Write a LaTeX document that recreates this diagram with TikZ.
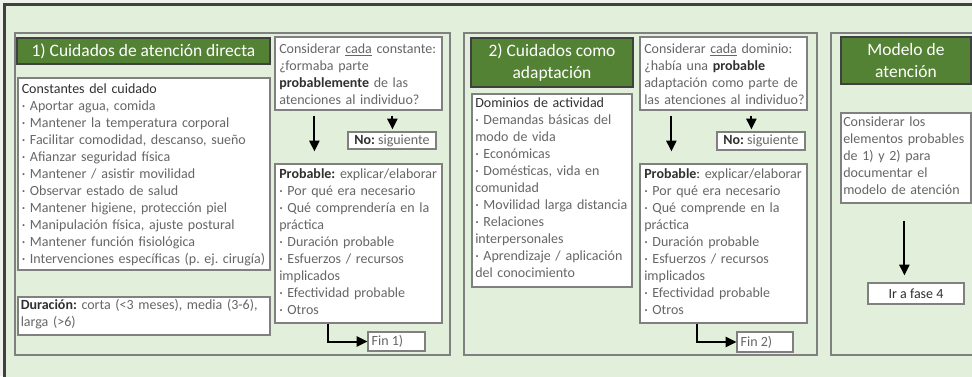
\documentclass[tikz,border=0pt]{standalone}
\usepackage{fontspec}
\setmainfont{Carlito}
\usetikzlibrary{arrows.meta,calc,fit,shadows}
\frenchspacing
\definecolor{bggreen}{HTML}{E2EFDA}
\definecolor{outerbg}{HTML}{EEF2EB}
\definecolor{titlegreen}{HTML}{548235}
\definecolor{darktxt}{HTML}{303030}
\definecolor{graytxt}{HTML}{666666}
\definecolor{boxline}{HTML}{808080}
\definecolor{frameline}{HTML}{404040}
\newcommand\dgBodyFont{\frenchspacing\fontsize{10.5pt}{12.75pt}\selectfont}
\newcommand\dgTitleFont{\fontsize{13.1pt}{16.5pt}\selectfont}
\newcommand\dgHd[1]{\textcolor{darktxt}{#1}}
\newcommand\dgBf[1]{\textcolor{darktxt}{\textbf{#1}}}
\tikzset{
  dgshadow/.style={drop shadow={shadow xshift=0.7pt, shadow yshift=-0.7pt, opacity=0.35, fill=black}},
  panelbox/.style={draw=boxline, line width=1.1pt, fill=bggreen, inner sep=0pt, dgshadow},
  whitebox/.style={draw=boxline, line width=0.9pt, fill=white, inner sep=0pt, dgshadow},
  titlebox/.style={draw=frameline, line width=1.6pt, fill=titlegreen, inner sep=0pt},
  bodytext/.style={anchor=base west, inner sep=0pt, text width=#1, align=left, font=\dgBodyFont, text=graytxt},
  smalltext/.style={inner sep=0pt, font=\dgBodyFont, text=graytxt},
  titletext/.style={inner sep=0pt, align=center, text=white, font=\dgTitleFont},
  arr/.style={line width=1.5pt, -{Triangle[length=8pt,width=7.5pt]}},
}
\begin{document}
\begin{tikzpicture}[x=0.75pt,y=-0.75pt]
\clip (0,0) rectangle (972,376);
\fill[outerbg] (0,0) rectangle (972,376);
% outer frame
\node[fit={(4.5,4.5)(1010,400)}, draw=frameline, line width=2pt, fill=bggreen, inner sep=0pt] (frame) {};
% panels
\node[panelbox, fit={(15,33)(450,355)}] (p1) {};
\node[panelbox, fit={(464,33)(817,355)}] (p2) {};
\node[panelbox, fit={(831,33)(1010,355)}] (p3) {};

% ---------- panel 1 ----------
\node[titlebox, fit={(17,38)(270,64)}] (t1) {};
\node[titletext] (t1txt) at (t1.center) {1) Cuidados de atención directa};

\node[whitebox, fit={(18,78)(270,270)}] (const) {};
\node[bodytext=250] (consttxt) at (21.5,93) {\dgHd{Constantes del cuidado}\\
· Aportar agua, comida\\
· Mantener la temperatura corporal\\
· Facilitar comodidad, descanso, sueño\\
· Afianzar seguridad física\\
· Mantener / asistir movilidad\\
· Observar estado de salud\\
· Mantener higiene, protección piel\\
· Manipulación física, ajuste postural\\
· Mantener función fisiológica\\
· Intervenciones específicas (p. ej. cirugía)};

\node[whitebox, fit={(18,297)(270,335)}] (dur) {};
\node[bodytext=250] (durtxt) at (20.5,309) {\dgBf{Duración:} corta (<3 meses), media (3-6),\\ larga (>6)};

\node[whitebox, fit={(275,37)(442,110)}] (cons1) {};
\node[bodytext=165] (cons1txt) at (279,53) {Considerar \underline{cada} constante:\\
¿formaba parte\\
\dgBf{probablemente} de las\\
atenciones al individuo?};

\node[whitebox, fit={(348,132)(436,149)}] (no1) {};
\node[smalltext] (no1txt) at (no1.center) {\dgBf{No:} siguiente};

\node[whitebox, fit={(275,164)(442,323)}] (prob1) {};
\node[bodytext=165] (prob1txt) at (279,178) {\dgBf{Probable:} explicar/elaborar\\
· Por qué era necesario\\
· Qué comprendería en la\\
práctica\\
· Duración probable\\
· Esfuerzos / recursos\\
implicados\\
· Efectividad probable\\
· Otros};

\node[whitebox, fit={(368,332)(425,351)}] (fin1) {};
\node[smalltext, anchor=west] (fin1txt) at ($(fin1.west)+(4,0)$) {Fin 1)};

\draw[arr] ($(cons1.south west)+(40,5)$) -- ($(prob1.north west)+(40,-12)$);
\draw[arr] ($(cons1.south west)+(118,5)$) -- ($(no1.north west)+(45,-2)$);
\draw[arr] ($(prob1.south west)+(54,0)$) |- (fin1.west);

% ---------- panel 2 ----------
\node[titlebox, fit={(471,38)(633,87)}] (t2) {};
\node[titletext] (t2txt) at (t2.center) {2) Cuidados como\\ adaptación};

\node[whitebox, fit={(472,94)(632,287)}] (dom) {};
\node[bodytext=158] (domtxt) at (475,107) {\dgHd{Dominios de actividad}\\
· Demandas básicas del\\
modo de vida\\
· Económicas\\
· Domésticas, vida en\\
comunidad\\
· Movilidad larga distancia\\
· Relaciones\\
interpersonales\\
· Aprendizaje / aplicación\\
del conocimiento};

\node[whitebox, fit={(640,37)(807,110)}] (cons2) {};
\node[bodytext=165] (cons2txt) at (644,53) {Considerar \underline{cada} dominio:\\
¿había una \dgBf{probable}\\
adaptación como parte de\\
las atenciones al individuo?};

\node[whitebox, fit={(717,132)(805,150)}] (no2) {};
\node[smalltext] (no2txt) at (no2.center) {\dgBf{No:} siguiente};

\node[whitebox, fit={(640,164)(807,323)}] (prob2) {};
\node[bodytext=165] (prob2txt) at (644,178) {\dgBf{Probable}\dgHd{:} explicar/elaborar\\
· Por qué era necesario\\
· Qué comprende en la\\
práctica\\
· Duración probable\\
· Esfuerzos / recursos\\
implicados\\
· Efectividad probable\\
· Otros};

\node[whitebox, fit={(737,332)(793,352)}] (fin2) {};
\node[smalltext, anchor=west] (fin2txt) at ($(fin2.west)+(4,0)$) {Fin 2)};

\draw[arr] ($(cons2.south west)+(32,5)$) -- ($(prob2.north west)+(32,-12)$);
\draw[arr] ($(cons2.south west)+(112,5)$) -- ($(no2.north west)+(35,-2)$);
\draw[arr] ($(prob2.south west)+(58,0)$) |- (fin2.west);

% ---------- panel 3 ----------
\node[titlebox, fit={(841,37)(971,84)}] (t3) {};
\node[titletext] (t3txt) at (t3.center) {Modelo de\\ atención};

\node[whitebox, fit={(841,113)(971,203)}] (cons3) {};
\node[bodytext=128] (cons3txt) at (843,126) {Considerar los\\
elementos probables\\
de 1) y 2) para\\
documentar el\\
modelo de atención};

\node[whitebox, fit={(868,283)(964,304)}] (ir) {};
\node[smalltext, text=darktxt] (irtxt) at (ir.center) {Ir a fase 4};

\draw[arr] ($(cons3.south west)+(64,17)$) -- ($(ir.north west)+(37,-7)$);
\end{tikzpicture}
\end{document}
